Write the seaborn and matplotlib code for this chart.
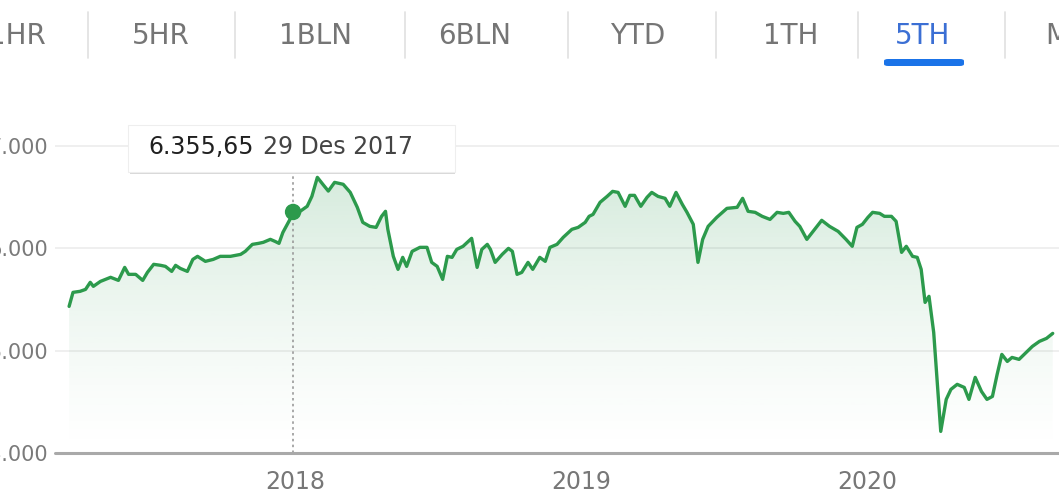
import numpy as np
import pandas as pd
import matplotlib
matplotlib.use("Agg")
import matplotlib.pyplot as plt
import matplotlib.dates as mdates
from matplotlib.patches import FancyBboxPatch
import seaborn as sns

# weekly closes
dates = [
    "2017-03-18", "2017-03-23", "2017-04-01", "2017-04-08", "2017-04-14", "2017-04-18",
    "2017-04-27", "2017-05-10", "2017-05-20", "2017-05-28", "2017-06-02", "2017-06-11",
    "2017-06-20", "2017-06-26", "2017-07-04", "2017-07-13", "2017-07-19", "2017-07-27",
    "2017-08-01", "2017-08-07", "2017-08-16", "2017-08-23", "2017-08-29", "2017-09-08",
    "2017-09-18", "2017-09-27", "2017-10-10", "2017-10-23", "2017-10-29", "2017-11-07",
    "2017-11-15", "2017-11-21", "2017-11-30", "2017-12-06", "2017-12-11", "2017-12-16",
    "2017-12-25", "2017-12-29", "2018-01-07", "2018-01-16", "2018-01-22", "2018-01-29",
    "2018-02-05", "2018-02-12", "2018-02-20", "2018-03-03", "2018-03-12", "2018-03-21",
    "2018-03-28", "2018-04-06", "2018-04-14", "2018-04-21", "2018-04-26", "2018-04-29",
    "2018-05-06", "2018-05-12", "2018-05-18", "2018-05-23", "2018-05-30", "2018-06-09",
    "2018-06-18", "2018-06-24", "2018-07-01", "2018-07-08", "2018-07-14", "2018-07-20",
    "2018-07-26", "2018-08-03", "2018-08-14", "2018-08-21", "2018-08-27", "2018-09-03",
    "2018-09-07", "2018-09-13", "2018-09-22", "2018-09-30", "2018-10-05", "2018-10-11",
    "2018-10-17", "2018-10-25", "2018-10-31", "2018-11-09", "2018-11-16", "2018-11-22",
    "2018-12-01", "2018-12-09", "2018-12-20", "2018-12-28", "2019-01-06", "2019-01-11",
    "2019-01-16", "2019-01-25", "2019-02-03", "2019-02-10", "2019-02-17", "2019-02-26",
    "2019-03-04", "2019-03-10", "2019-03-18", "2019-03-26", "2019-04-01", "2019-04-09",
    "2019-04-18", "2019-04-24", "2019-05-02", "2019-05-10", "2019-05-16", "2019-05-24",
    "2019-05-30", "2019-06-05", "2019-06-12", "2019-06-23", "2019-07-06", "2019-07-19",
    "2019-07-26", "2019-08-02", "2019-08-11", "2019-08-20", "2019-08-30", "2019-09-08",
    "2019-09-16", "2019-09-23", "2019-10-01", "2019-10-07", "2019-10-16", "2019-10-24",
    "2019-11-04", "2019-11-14", "2019-11-25", "2019-12-05", "2019-12-13", "2019-12-19",
    "2019-12-26", "2020-01-02", "2020-01-08", "2020-01-17", "2020-01-23", "2020-02-01",
    "2020-02-07", "2020-02-14", "2020-02-20", "2020-02-28", "2020-03-05", "2020-03-10",
    "2020-03-15", "2020-03-20", "2020-03-26", "2020-04-04", "2020-04-11", "2020-04-17",
    "2020-04-25", "2020-05-04", "2020-05-10", "2020-05-18", "2020-05-26", "2020-06-02",
    "2020-06-09", "2020-06-15", "2020-06-21", "2020-06-28", "2020-07-04", "2020-07-13",
    "2020-07-22", "2020-07-30", "2020-08-08", "2020-08-17", "2020-08-25",
]
closes = [
    5433, 5570, 5580, 5599, 5668, 5629,
    5677, 5717, 5687, 5814, 5746, 5746,
    5687, 5765, 5844, 5834, 5824, 5775,
    5834, 5804, 5775, 5892, 5922, 5873,
    5892, 5922, 5922, 5941, 5971, 6039,
    6049, 6059, 6088, 6068, 6049, 6156,
    6283, 6355.65, 6362, 6411, 6508, 6694,
    6626, 6560, 6645, 6626, 6547, 6401,
    6254, 6215, 6205, 6313, 6362, 6186,
    5922, 5795, 5912, 5824, 5971, 6010,
    6010, 5863, 5824, 5697, 5922, 5912,
    5990, 6020, 6098, 5814, 5990, 6039,
    5990, 5863, 5941, 6000, 5971, 5746,
    5765, 5863, 5795, 5912, 5873, 6010,
    6039, 6108, 6186, 6205, 6254, 6313,
    6332, 6450, 6508, 6557, 6547, 6411,
    6518, 6518, 6411, 6499, 6547, 6508,
    6489, 6411, 6547, 6430, 6352, 6235,
    5863, 6088, 6215, 6303, 6391, 6401,
    6489, 6362, 6352, 6313, 6283, 6352,
    6342, 6352, 6264, 6215, 6088, 6166,
    6274, 6215, 6166, 6088, 6020, 6205,
    6235, 6303, 6352, 6342, 6313, 6313,
    6264, 5961, 6020, 5922, 5912, 5795,
    5472, 5531, 5179, 4211, 4524, 4622,
    4671, 4641, 4524, 4739, 4602, 4524,
    4553, 4768, 4964, 4895, 4934, 4915,
    4983, 5042, 5091, 5120, 5169,
]

y_ticks = [4000, 5000, 6000, 7000]
y_tick_labels = ["4.000", "5.000", "6.000", "7.000"]
x_ticks = ["2018-01-01", "2019-01-01", "2020-01-01"]
x_tick_labels = ["2018", "2019", "2020"]
tabs = ["1HR", "5HR", "1BLN", "6BLN", "YTD", "1TH", "5TH", "MAKS"]
active_tab = "5TH"
hover_date = "2017-12-29"
hover_value = 6355.65
hover_text = ("6.355,65", "29 Des 2017")

df = pd.DataFrame({"date": pd.to_datetime(dates), "close": closes})

sns.set_style("white")
plt.rcParams["font.family"] = ["DejaVu Sans"]

W, H = 1059, 492
fig = plt.figure(figsize=(W / 100, H / 100), dpi=100)
ax = fig.add_axes([55 / W, 1 - 453 / H, 1 - 55 / W, 353 / H])

green = "#2c9a4c"
sns.lineplot(data=df, x="date", y="close", ax=ax, color=green, linewidth=2.4, zorder=4)

x_lo = mdates.date2num(pd.Timestamp("2017-02-28"))
x_hi = mdates.date2num(pd.Timestamp("2020-09-02"))
y_lo, y_hi = 4000, 7450

# gradient fill under the line
fill = ax.fill_between(df["date"], df["close"], y_lo, color="none", lw=0)
grad = np.zeros((256, 1, 4))
grad[:, 0, 0] = 0.18
grad[:, 0, 1] = 0.60
grad[:, 0, 2] = 0.32
grad[:, 0, 3] = 0.20 * np.linspace(0.0, 1.0, 256) ** 1.3
im = ax.imshow(grad, extent=[x_lo, x_hi, y_lo, 6750], origin="lower",
               aspect="auto", zorder=2)
im.set_clip_path(fill.get_paths()[0], transform=ax.transData)
ax.set_xlim(x_lo, x_hi)
ax.set_ylim(y_lo, y_hi)

# grid / axis
for v in y_ticks[1:]:
    ax.axhline(v, color="#ececec", lw=1.2, zorder=1)
ax.axhline(y_lo, color="#a9a9a9", lw=2.2, zorder=5, clip_on=False)
for s in ax.spines.values():
    s.set_visible(False)

ax.set_yticks(y_ticks)
ax.set_yticklabels(y_tick_labels)
ax.set_xticks([mdates.date2num(pd.Timestamp(d)) for d in x_ticks])
ax.set_xticklabels(x_tick_labels)
ax.tick_params(axis="y", length=0, pad=5, labelsize=15, labelcolor="#7a7a7a")
ax.tick_params(axis="x", length=7, width=1.2, color="#a9a9a9", pad=5,
               labelsize=17, labelcolor="#777777")
ax.set_xlabel("")
ax.set_ylabel("")

# hover line + marker
hx = mdates.date2num(pd.Timestamp(hover_date))
ax.axvline(hx, ymin=0, ymax=(453 - 172) / 353, color="#9a9a9a", lw=1.2,
           ls=(0, (1.5, 2)), zorder=3)
ax.scatter([pd.Timestamp(hover_date)], [hover_value], s=140, color=green,
           zorder=6, edgecolor="none")

# tooltip box
shadow = FancyBboxPatch((130 / W, 1 - 174 / H), 325 / W, 47 / H,
                        boxstyle="square,pad=0", transform=fig.transFigure,
                        facecolor="#d8d8d8", edgecolor="none", zorder=7)
box = FancyBboxPatch((128 / W, 1 - 172 / H), 327 / W, 47 / H,
                     boxstyle="square,pad=0", transform=fig.transFigure,
                     facecolor="white", edgecolor="#eeeeee", lw=0.8, zorder=8)
fig.patches.extend([shadow, box])
fig.text(148 / W, 1 - 147 / H, hover_text[0], fontsize=17, color="#202020",
         va="center", ha="left", zorder=9)
fig.text(263 / W, 1 - 147 / H, hover_text[1], fontsize=17, color="#444444",
         va="center", ha="left", zorder=9)

# tab bar on top
tab_x = [17, 161, 316, 475, 638, 791, 923, 1085]
sep_x = [88, 235, 405, 568, 716, 858, 1005]
for name, cx in zip(tabs, tab_x):
    col = "#3b6fd4" if name == active_tab else "#757575"
    fig.text(cx / W, 1 - 36 / H, name, fontsize=20, color=col,
             ha="center", va="center")
for sx in sep_x:
    fig.add_artist(plt.Line2D([sx / W, sx / W], [1 - 12 / H, 1 - 58 / H],
                              transform=fig.transFigure, color="#e0e0e0", lw=1.2))
underline = FancyBboxPatch((884 / W, 1 - 66 / H), 80 / W, 7 / H,
                           boxstyle="round,pad=0,rounding_size=0.004",
                           transform=fig.transFigure, facecolor="#1a73e8",
                           edgecolor="none")
fig.patches.append(underline)

plt.savefig("out.png", dpi=100)
